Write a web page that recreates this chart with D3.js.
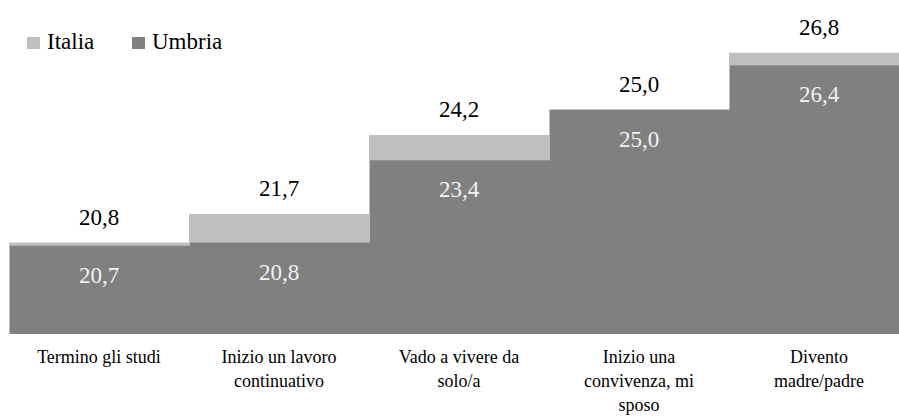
<!DOCTYPE html>
<html><head><meta charset="utf-8">
<script src="https://cdn.jsdelivr.net/npm/d3@7"></script>
</head><body style="margin:0">
<svg id="c" width="899" height="420" style="font-family:'Liberation Serif',serif"></svg>
<script>
const categories = ["Termino gli studi","Inizio un lavoro continuativo","Vado a vivere da solo/a","Inizio una convivenza, mi sposo","Divento madre/padre"];
const italia = [20.8, 21.7, 24.2, 25.0, 26.8];
const umbria = [20.7, 20.8, 23.4, 25.0, 26.4];
const seriesNames = ["Italia","Umbria"];
const colors = {Italia:"#bfbfbf", Umbria:"#808080"};
const fmt = v => v.toFixed(1).replace(".", ",");
const FONT = "Liberation Serif, serif";

const svg = d3.select("#c");
const x = d3.scaleBand().domain(categories).range([9, 909]).padding(0);
const y = d3.scaleLinear().domain([17.91, 28]).range([334, 334 - 10.09*31.64]);

svg.append("g").selectAll("rect").data(categories).join("rect")
  .attr("x", d => x(d)).attr("width", x.bandwidth())
  .attr("y", (d,i) => y(italia[i])).attr("height", (d,i) => y.range()[0] - y(italia[i]))
  .attr("fill", colors.Italia);
svg.append("g").selectAll("rect").data(categories).join("rect")
  .attr("x", d => x(d) + 1).attr("width", x.bandwidth())
  .attr("y", (d,i) => y(umbria[i])).attr("height", (d,i) => y.range()[0] - y(umbria[i]))
  .attr("fill", colors.Umbria);

svg.append("g").selectAll("text").data(categories).join("text")
  .attr("x", d => x(d) + x.bandwidth()/2).attr("y", (d,i) => y(italia[i]) - 18)
  .attr("text-anchor","middle").style("font-family", FONT).attr("font-size", 23)
  .attr("fill","#000").text((d,i) => fmt(italia[i]));
svg.append("g").selectAll("text").data(categories).join("text")
  .attr("x", d => x(d) + x.bandwidth()/2).attr("y", (d,i) => y(umbria[i]) + 37)
  .attr("text-anchor","middle").style("font-family", FONT).attr("font-size", 23)
  .attr("fill","#f2f2f2").text((d,i) => fmt(umbria[i]));

const axisG = svg.append("g");
categories.forEach(c => {
  const cx = x(c) + x.bandwidth()/2;
  const t = axisG.append("text").attr("text-anchor","middle").style("font-family", FONT)
    .attr("font-size", 18).attr("fill","#000").attr("x", cx).attr("y", 363);
  const words = c.split(" ");
  let line = [], lines = [];
  const probe = axisG.append("text").style("font-family", FONT).attr("font-size", 18);
  words.forEach(w => {
    probe.text(line.concat([w]).join(" "));
    if (probe.node().getComputedTextLength() > 140 && line.length) {
      lines.push(line.join(" ")); line = [w];
    } else line.push(w);
  });
  lines.push(line.join(" "));
  probe.remove();
  lines.forEach((l, i) => t.append("tspan").attr("x", cx).attr("dy", i ? 24 : 0).text(l));
});

const legend = svg.append("g");
const lx = [27, 132];
seriesNames.forEach((s, i) => {
  legend.append("rect").attr("x", lx[i]).attr("y", 37).attr("width", 13).attr("height", 12).attr("fill", colors[s]);
  legend.append("text").attr("x", lx[i] + 20).attr("y", 49).style("font-family", FONT)
    .attr("font-size", 23).attr("fill","#000").text(s);
});
</script>
</body></html>
